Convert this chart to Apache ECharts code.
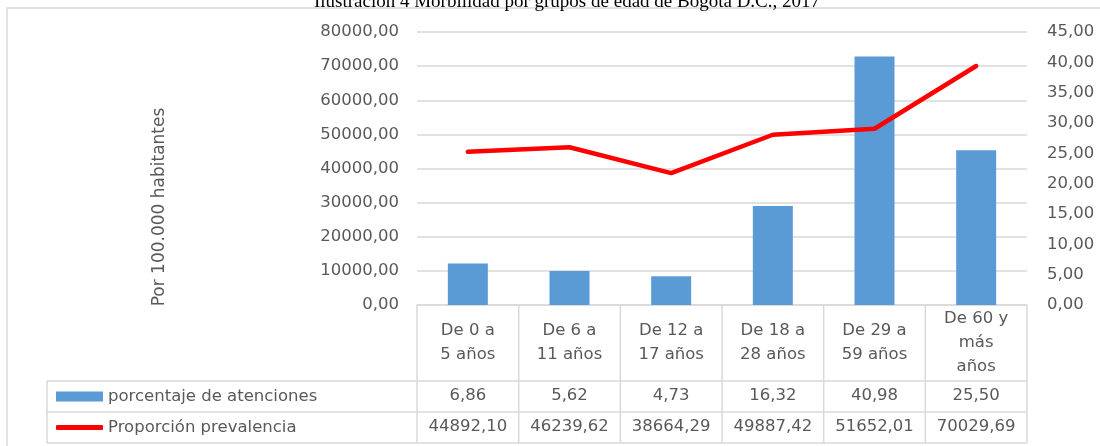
<!DOCTYPE html>
<html>
<head>
<meta charset="utf-8">
<script src="https://cdn.jsdelivr.net/npm/echarts@6/dist/echarts.min.js"></script>
<style>
  html, body { margin: 0; padding: 0; background: #fff; }
  #chart { width: 1100px; height: 446px; }
</style>
</head>
<body>
<div id="chart"></div>
<script>
const categories = ['De 0 a\n5 años', 'De 6 a\n11 años', 'De 12 a\n17 años', 'De 18 a\n28 años', 'De 29 a\n59 años', 'De 60 y\nmás\naños'];
const atenciones = [6.86, 5.62, 4.73, 16.32, 40.98, 25.50];
const prevalencia = [44892.10, 46239.62, 38664.29, 49887.42, 51652.01, 70029.69];
const seriesNames = ['porcentaje de atenciones', 'Proporción prevalencia'];

const fmt = v => v.toFixed(2).replace('.', ',');
const txtColor = '#595959';
const gridColor = '#d9d9d9';
const font = 'DejaVu Sans';
const fs = 16.5;

const gLeft = 417, gRight = 73, gTop = 32, gBottom = 141;
const plotW = 1100 - gLeft - gRight;
const bw = plotW / categories.length;
const axisY = 446 - gBottom;

// tabla de datos debajo del eje
const table = [];
const hLine = (y, x1, x2) => ({ type: 'line', shape: { x1, y1: y, x2, y2: y }, style: { stroke: gridColor, lineWidth: 1.5 }, silent: true });
const vLine = (x, y1, y2) => ({ type: 'line', shape: { x1: x, y1, x2: x, y2 }, style: { stroke: gridColor, lineWidth: 1.5 }, silent: true });
[381, 412, 443].forEach(y => table.push(hLine(y, 47, gLeft + plotW)));
table.push(vLine(47, 381, 443));
for (let i = 0; i <= categories.length; i++) table.push(vLine(gLeft + i * bw, axisY, 443));
[atenciones, prevalencia].forEach((row, r) => {
  row.forEach((v, i) => {
    table.push({
      type: 'text',
      x: gLeft + (i + 0.5) * bw,
      y: r === 0 ? 396 : 427,
      style: { text: fmt(v), fill: txtColor, font: fs + 'px "' + font + '"', align: 'center', verticalAlign: 'middle' },
      silent: true
    });
  });
});
table.push({
  type: 'text', x: 160, y: 207, rotation: Math.PI / 2,
  style: { text: 'Por 100.000 habitantes', fill: txtColor, font: '17px "' + font + '"', align: 'center', verticalAlign: 'middle' },
  silent: true
});
table.push({
  type: 'rect', shape: { x: 7, y: 8, width: 1200, height: 600 },
  style: { fill: 'none', stroke: gridColor, lineWidth: 1.5 }, silent: true, z: -1
});

const legendText = { fontFamily: font, fontSize: fs, color: txtColor };

const chart = echarts.init(document.getElementById('chart'));
chart.setOption({
  animation: false,
  title: {
    text: 'Ilustración 4 Morbilidad por grupos de edad de Bogotá D.C., 2017',
    left: 562, top: -12, textAlign: 'center',
    textStyle: { fontFamily: 'Liberation Serif', fontWeight: 'normal', fontSize: 19, color: '#000' }
  },
  legend: [
    {
      left: 51, top: 383, itemWidth: 47, itemHeight: 10, itemGap: 0,
      textStyle: legendText,
      data: [{ name: seriesNames[0], icon: 'rect' }]
    },
    {
      left: 51, top: 414, itemWidth: 47, itemHeight: 5, itemGap: 0,
      textStyle: legendText,
      data: [{ name: seriesNames[1], icon: 'roundRect' }]
    }
  ],
  grid: { left: gLeft, right: gRight, top: gTop, bottom: gBottom },
  xAxis: {
    type: 'category', data: categories,
    axisLine: { lineStyle: { color: gridColor, width: 1.5 } },
    axisTick: { show: false },
    axisLabel: { margin: 38, verticalAlign: 'middle', lineHeight: 24, fontFamily: font, fontSize: fs, color: txtColor, interval: 0 }
  },
  yAxis: [
    {
      type: 'value', min: 0, max: 80000, interval: 10000,
      axisLabel: { margin: 18, formatter: fmt, fontFamily: font, fontSize: fs, color: txtColor },
      splitLine: { lineStyle: { color: gridColor, width: 1.5 } }
    },
    {
      type: 'value', min: 0, max: 45, interval: 5, position: 'right',
      axisLabel: { margin: 20, formatter: fmt, fontFamily: font, fontSize: fs, color: txtColor },
      splitLine: { show: false }
    }
  ],
  series: [
    {
      name: seriesNames[0], type: 'bar', yAxisIndex: 1, data: atenciones,
      barWidth: 40, itemStyle: { color: '#5b9bd5' }
    },
    {
      name: seriesNames[1], type: 'line', yAxisIndex: 0, data: prevalencia,
      symbol: 'none', z: 5,
      lineStyle: { color: '#ff0000', width: 4.5, cap: 'round', join: 'round' },
      itemStyle: { color: '#ff0000' }
    }
  ],
  graphic: table
});
</script>
</body>
</html>
